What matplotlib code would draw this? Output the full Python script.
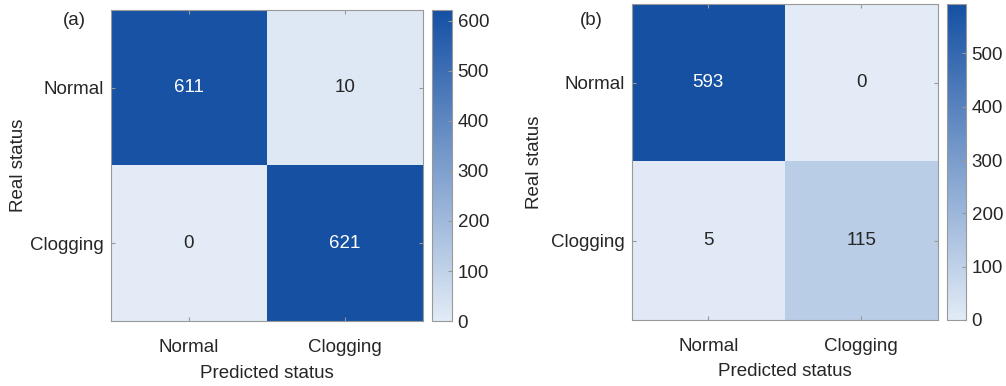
import numpy as np
import matplotlib
matplotlib.use("Agg")
import matplotlib.pyplot as plt
from matplotlib.colors import LinearSegmentedColormap

plt.rcParams['font.family'] = ['Liberation Sans', 'DejaVu Sans']
plt.rcParams['font.size'] = 13.5

labels = ['Normal', 'Clogging']
cm_a = np.array([[611, 10], [0, 621]])
cm_b = np.array([[593, 0], [5, 115]])
cbar_ticks = [0, 100, 200, 300, 400, 500, 600]

cmap = LinearSegmentedColormap.from_list('blu', ['#E2EBF6', '#1550A3'])
txt_color = '#262626'
edge = '#999999'

fig = plt.figure(figsize=(10.06, 3.86), dpi=100)


def panel(cm, ax_rect, cb_rect, tag, tag_xy, ypad):
    ax = fig.add_axes(ax_rect)
    cax = fig.add_axes(cb_rect)
    vmax = cm.max()
    im = ax.imshow(cm, cmap=cmap, vmin=0, vmax=vmax, aspect='auto',
                   interpolation='nearest')
    for i in range(2):
        for j in range(2):
            v = cm[i, j]
            c = 'white' if v > vmax * 0.5 else txt_color
            ax.text(j, i, str(v), ha='center', va='center', color=c)
    ax.set_xticks([0, 1])
    ax.set_xticklabels(labels)
    ax.set_yticks([0, 1])
    ax.set_yticklabels(labels)
    ax.tick_params(axis='x', direction='in', length=3, color=edge, colors=txt_color,
                   top=True, pad=13)
    ax.tick_params(axis='y', direction='in', length=3, color=edge, colors=txt_color,
                   right=True, pad=5)
    ax.set_xlabel('Predicted status', color=txt_color, labelpad=6)
    ax.set_ylabel('Real status', color=txt_color, labelpad=ypad)
    for s in ax.spines.values():
        s.set_color(edge)
        s.set_linewidth(0.8)
    cb = fig.colorbar(im, cax=cax)
    cb.set_ticks([t for t in cbar_ticks if t <= vmax])
    cb.ax.tick_params(direction='in', length=3, color=edge, colors=txt_color, pad=4)
    cb.outline.set_edgecolor(edge)
    cb.outline.set_linewidth(0.8)
    fig.text(tag_xy[0], tag_xy[1], tag, ha='center', va='center', color=txt_color)


panel(cm_a, [0.1103, 0.168, 0.310, 0.806], [0.4294, 0.168, 0.0199, 0.806], '(a)', (0.0735, 0.946), 2)
panel(cm_b, [0.628, 0.171, 0.304, 0.819], [0.9414, 0.171, 0.0189, 0.819], '(b)', (0.588, 0.946), 5.5)

fig.savefig('out.png', dpi=100)
